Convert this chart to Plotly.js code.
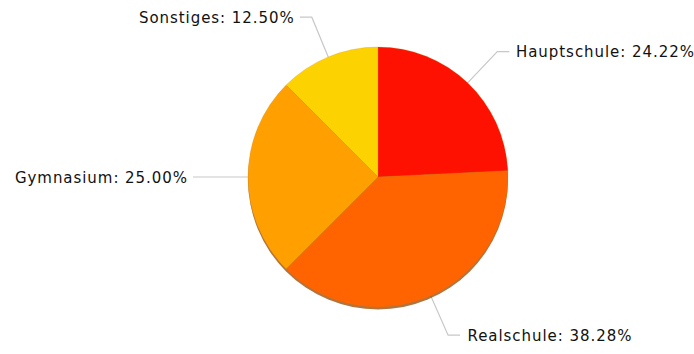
<!DOCTYPE html>
<html>
<head>
<meta charset="utf-8">
<script src="https://cdn.plot.ly/plotly-3.0.1.min.js"></script>
<style>html,body{margin:0;padding:0;background:#fff;}#chart{width:694px;height:354px;}
#chart .annotation-text{letter-spacing:0.95px;}</style>
</head>
<body>
<div id="chart"></div>
<script>
const categories = ['Hauptschule', 'Realschule', 'Gymnasium', 'Sonstiges'];
const values = [24.22, 38.28, 25.00, 12.50];
const colors = ['#FF1100', '#FF6400', '#FFA000', '#FCD200'];

const W = 694, H = 354;
const cx = 378, cy = 177, R = 130;
const leadLen = 43, horizLen = 12;
const gapRight = 13.5, gapLeft = 11; // compensates for CSS letter-spacing

const px2x = p => p / W;
const py2y = p => 1 - p / H;

const total = values.reduce((a, b) => a + b, 0);
const shapes = [], annotations = [];
let cum = 0;
values.forEach((v, i) => {
  const mid = (cum + v / 2) / total * 2 * Math.PI; // clockwise from top
  cum += v;
  const s = Math.sin(mid), c = Math.cos(mid);
  const x0 = cx + R * s, y0 = cy - R * c;
  const x1 = cx + (R + leadLen) * s, y1 = cy - (R + leadLen) * c;
  const dir = s >= 0 ? 1 : -1;
  const x2 = x1 + dir * horizLen;
  shapes.push({
    type: 'path', xref: 'paper', yref: 'paper',
    path: `M ${px2x(x0)} ${py2y(y0)} L ${px2x(x1)} ${py2y(y1)} L ${px2x(x2)} ${py2y(y1)}`,
    line: {color: '#c8c8c8', width: 1.2}, layer: 'below'
  });
  annotations.push({
    xref: 'paper', yref: 'paper', x: px2x(x2 + dir * (dir > 0 ? gapRight : gapLeft)), y: py2y(y1 + 0.5),
    xanchor: dir > 0 ? 'left' : 'right', yanchor: 'middle', showarrow: false,
    text: categories[i] + ': ' + v.toFixed(2) + '%',
    font: {family: 'DejaVu Sans, Verdana, sans-serif', size: 15, color: '#111'}
  });
});

const shadowOff = 2.5;
const domain = {x: [px2x(cx - R), px2x(cx + R)], y: [py2y(cy + R), py2y(cy - R)]};
const shadowDomain = {x: domain.x, y: [py2y(cy + R + shadowOff), py2y(cy - R + shadowOff)]};

const data = [
  {
    type: 'pie', values: [1], labels: ['shadow'], domain: shadowDomain,
    marker: {colors: ['rgba(150,70,0,0.75)'], line: {width: 0}},
    textinfo: 'none', hoverinfo: 'skip', showlegend: false, sort: false
  },
  {
    type: 'pie', values: values, labels: categories, domain: domain,
    marker: {colors: colors, line: {color: 'rgba(200,120,0,0.35)', width: 0.6}},
    textinfo: 'none', sort: false, direction: 'clockwise', rotation: 0,
    showlegend: false, hoverinfo: 'label+percent'
  }
];

const layout = {
  width: W, height: H,
  margin: {l: 0, r: 0, t: 0, b: 0},
  paper_bgcolor: '#fff', plot_bgcolor: '#fff',
  showlegend: false,
  shapes: shapes,
  annotations: annotations
};

Plotly.newPlot('chart', data, layout, {displayModeBar: false, staticPlot: true});
</script>
</body>
</html>
